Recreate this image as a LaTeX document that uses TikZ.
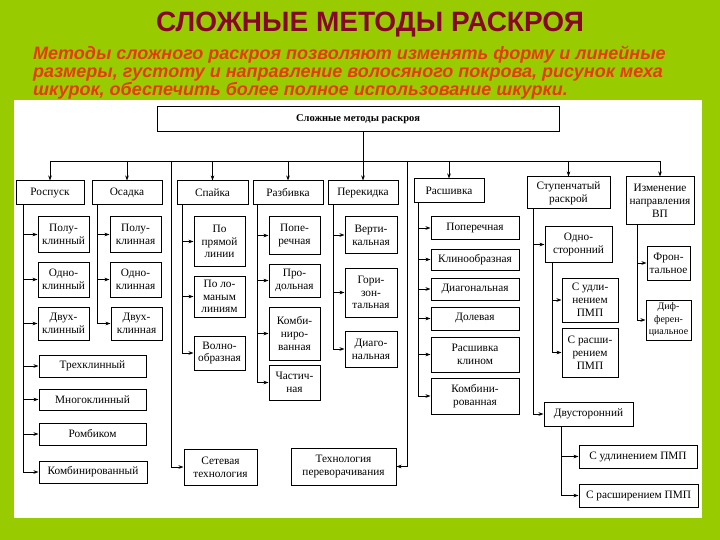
\documentclass[tikz,border=0pt]{standalone}
\usepackage{fontspec}
\setmainfont{Liberation Serif}
\newfontfamily\hsans{Liberation Sans}
\usetikzlibrary{arrows.meta}
\definecolor{bggreen}{RGB}{153,204,0}
\definecolor{ttlred}{RGB}{135,8,38}
\definecolor{subred}{RGB}{232,58,8}
\newcommand{\bx}[7][]{%
  \pgfmathsetmacro\bxcx{(#3+#5)/2}%
  \pgfmathsetmacro\bxcy{(#4+#6)/2}%
  \pgfmathsetmacro\bxw{#5-#3}%
  \pgfmathsetmacro\bxh{#6-#4}%
  \node[bxs,minimum width=\bxw pt,minimum height=\bxh pt,#1] (#2) at (\bxcx,\bxcy) {#7};}
\tikzset{
  bxs/.style={draw,line width=1pt,inner sep=0pt,align=center,
    font=\fontsize{11.3}{12.8}\selectfont,fill=white},
  ln/.style={line width=0.95pt},
  arr/.style={line width=0.95pt,-{Stealth[length=5pt,width=3.6pt]}},
  subt/.style={text=subred,font=\hsans\bfseries\itshape\fontsize{18}{18}\selectfont,anchor=base west,inner sep=0pt},
}
\begin{document}
\begin{tikzpicture}[x=1pt,y=-1pt]
\useasboundingbox (0,0) rectangle (720,540);
\fill[bggreen] (0,0) rectangle (720,540);
\fill[white] (14,100) rectangle (702,518);
% header
\node[text=ttlred,font=\hsans\bfseries\fontsize{28}{32}\selectfont,anchor=base] (title) at (370,32) {СЛОЖНЫЕ МЕТОДЫ РАСКРОЯ};
\node[subt] (sub1) at (33,60) {Методы сложного раскроя позволяют изменять форму и линейные};
\node[subt] (sub2) at (33,78) {размеры, густоту и направление волосяного покрова, рисунок меха};
\node[subt] (sub3) at (33,96) {шкурок, обеспечить более полное использование шкурки.};
% top box
\bx[font=\bfseries\fontsize{10.5}{12}\selectfont]{top}{157}{107}{559}{132}{Сложные методы раскроя}
% group boxes
\bx{rosp}{16}{181}{84}{205}{Роспуск}
\bx{osad}{92}{181}{162}{205}{Осадка}
\bx{spay}{177}{181}{248}{205}{Спайка}
\bx{razb}{253}{181}{323}{205}{Разбивка}
\bx{pere}{328}{181}{398}{205}{Перекидка}
\bx{rash}{414}{179}{484}{203}{Расшивка}
\bx{stup}{527}{177}{610}{209}{Ступенчатый\\раскрой}
\bx{izm}{626}{177}{694}{225}{Изменение\\направления\\ВП}
% Роспуск children
\bx{r1}{38}{217}{89}{252}{Полу-\\клинный}
\bx{r2}{38}{262}{89}{297}{Одно-\\клинный}
\bx{r3}{38}{307}{89}{340}{Двух-\\клинный}
\bx{r4}{39}{355}{146}{377}{Трехклинный}
\bx{r5}{39}{389}{146}{410}{Многоклинный}
\bx{r6}{39}{423}{146}{445}{Ромбиком}
\bx{r7}{39}{461}{147}{483}{Комбинированный}
% Осадка children
\bx{o1}{110}{217}{161}{252}{Полу-\\клинная}
\bx{o2}{110}{262}{161}{297}{Одно-\\клинная}
\bx{o3}{111}{307}{162}{340}{Двух-\\клинная}
% Спайка children
\bx{s1}{194}{217}{245}{266}{По\\прямой\\линии}
\bx{s2}{194}{276}{245}{317}{По ло-\\маным\\линиям}
\bx{s3}{194}{336}{245}{370}{Волно-\\образная}
% Разбивка children
\bx{b1}{269}{217}{320}{254}{Попе-\\речная}
\bx{b2}{269}{264}{320}{297}{Про-\\дольная}
\bx{b3}{269}{307}{320}{360}{Комби-\\ниро-\\ванная}
\bx{b4}{269}{365}{320}{400}{Частич-\\ная}
% Перекидка children
\bx{p1}{345}{217}{397}{253}{Верти-\\кальная}
\bx{p2}{345}{268}{397}{317}{Гори-\\зон-\\тальная}
\bx{p3}{345}{331}{397}{367}{Диаго-\\нальная}
% Расшивка children
\bx{h1}{431}{217}{519}{239}{Поперечная}
\bx{h2}{431}{249}{519}{270}{Клинообразная}
\bx{h3}{431}{278}{519}{300}{Диагональная}
\bx{h4}{431}{307}{519}{330}{Долевая}
\bx{h5}{431}{337}{519}{372}{Расшивка\\клином}
\bx{h6}{431}{378}{519}{414}{Комбини-\\рованная}
% Ступенчатый children
\bx{t1}{545}{227}{612}{262}{Одно-\\сторонний}
\bx{t11}{562}{278}{618}{322}{С удли-\\нением\\ПМП}
\bx{t12}{562}{328}{618}{377}{С расши-\\рением\\ПМП}
\bx{t2}{544}{402}{633}{426}{Двусторонний}
\bx{t21}{579}{445}{697}{468}{С удлинением ПМП}
\bx{t22}{579}{484}{698}{507}{С расширением ПМП}
% Изменение children
\bx{z1}{647}{246}{690}{280}{Фрон-\\тальное}
\bx[font=\fontsize{9.9}{12.5}\selectfont]{z2}{646}{300}{691}{340}{Диф-\\ферен-\\циальное}
% bottom technologies
\bx{set}{184}{449}{257}{485}{Сетевая\\технология}
\bx{tech}{291}{448}{396}{485}{Технология\\переворачивания}
% bus
\coordinate (bus) at (0,161);
\coordinate (d1) at (171,161);
\coordinate (d2) at (407,161);
\draw[ln] (top.south -| pere.north) -- (pere.north |- bus);
\draw[ln] (rosp.north |- bus) -- (izm.north |- bus);
\foreach \g in {rosp,osad,spay,razb,pere,rash,stup,izm}
  \draw[arr] (\g.north |- bus) -- (\g.north);
\draw[arr] (d1) |- (set.west);
\draw[arr] (d2) |- (tech.east);
% spines
\coordinate (xr) at (23,0);
\coordinate (xo) at (97,0);
\coordinate (xs) at (182,0);
\coordinate (xb) at (257,0);
\coordinate (xp) at (333,0);
\coordinate (xh) at (418,0);
\coordinate (xt) at (533,0);
\coordinate (xt1) at (552,0);
\coordinate (xt2) at (561,0);
\coordinate (xz) at (637,0);
\draw[arr] (rosp.south -| xr) |- (r7.west);
\foreach \c in {r1,r2,r3,r4,r5,r6} \draw[arr] (\c.west -| xr) -- (\c.west);
\draw[arr] (osad.south -| xo) |- (o3.west);
\foreach \c in {o1,o2} \draw[arr] (\c.west -| xo) -- (\c.west);
\draw[arr] (spay.south -| xs) |- (s3.west);
\foreach \c in {s1,s2} \draw[arr] (\c.west -| xs) -- (\c.west);
\draw[arr] (razb.south -| xb) |- (b4.west);
\foreach \c in {b1,b2,b3} \draw[arr] (\c.west -| xb) -- (\c.west);
\draw[arr] (pere.south -| xp) |- (p3.west);
\foreach \c in {p1,p2} \draw[arr] (\c.west -| xp) -- (\c.west);
\draw[arr] (rash.south -| xh) |- (h6.west);
\foreach \c in {h1,h2,h3,h4,h5} \draw[arr] (\c.west -| xh) -- (\c.west);
\draw[arr] (stup.south -| xt) |- (t2.west);
\draw[arr] (t1.west -| xt) -- (t1.west);
\draw[arr] (t1.south -| xt1) |- (t12.west);
\draw[arr] (t11.west -| xt1) -- (t11.west);
\draw[arr] (t2.south -| xt2) |- (t22.west);
\draw[arr] (t21.west -| xt2) -- (t21.west);
\draw[arr] (izm.south -| xz) |- (z2.west);
\draw[arr] (z1.west -| xz) -- (z1.west);
\end{tikzpicture}
\end{document}
